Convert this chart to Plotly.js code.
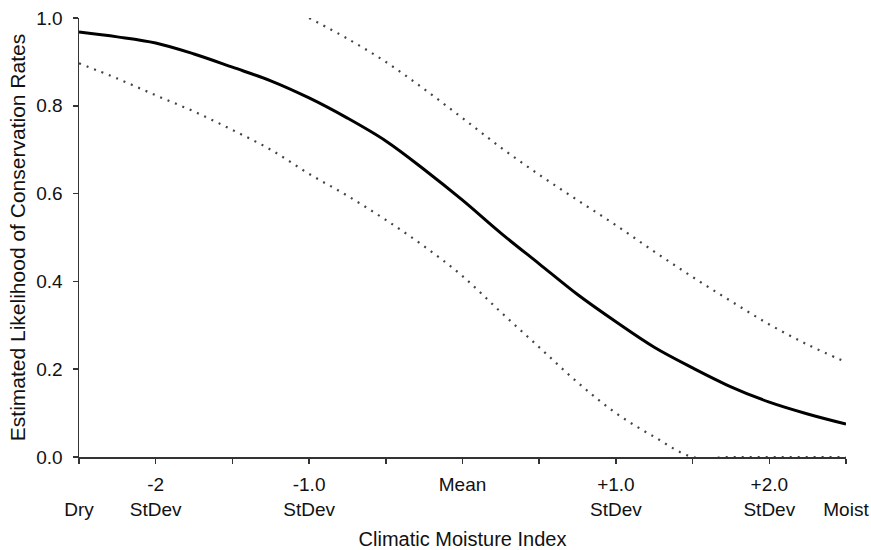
<!DOCTYPE html>
<html>
<head>
<meta charset="utf-8">
<script src="https://cdn.plot.ly/plotly-3.0.1.min.js"></script>
<style>html,body{margin:0;padding:0;background:#fff;}#chart{width:871px;height:550px;}</style>
</head>
<body>
<div id="chart"></div>
<script>
// Climatic moisture index positions (in half-StDev steps from Dry to Moist)
const xIndex = [0, 0.5, 1, 1.5, 2, 2.5, 3, 3.5, 4, 4.5, 5, 5.5, 6, 6.5, 7, 7.5, 8, 8.5, 9, 9.5, 10];
// Estimated likelihood (solid)
const estimate = [0.968, 0.957, 0.943, 0.918, 0.888, 0.857, 0.818, 0.772, 0.720, 0.655, 0.585, 0.510, 0.440, 0.370, 0.308, 0.250, 0.203, 0.160, 0.125, 0.098, 0.075];
// Upper confidence bound (dotted)
const upper = [null, null, null, null, null, null, 1.0, 0.953, 0.900, 0.838, 0.772, 0.705, 0.643, 0.585, 0.528, 0.468, 0.410, 0.355, 0.302, 0.256, 0.216];
// Lower confidence bound (dotted)
const lower = [0.897, 0.862, 0.824, 0.787, 0.745, 0.700, 0.645, 0.595, 0.540, 0.480, 0.412, 0.330, 0.250, 0.170, 0.100, 0.046, 0.0, 0.0, 0.0, 0.0, 0.0];
// Tick labels
const tickPositions = [0, 1, 2, 3, 4, 5, 6, 7, 8, 9, 10];
const tickLabels = [" <br>Dry", "-2<br>StDev", "", "-1.0<br>StDev", "", "Mean", "", "+1.0<br>StDev", "", "+2.0<br>StDev", " <br>Moist"];
const yTicks = [0, 0.2, 0.4, 0.6, 0.8, 1.0];

const font = "Liberation Sans, Arial, sans-serif";
const traces = [
  {x: xIndex, y: lower, mode: "lines", line: {color: "#444", width: 2.2, dash: "2px,6px", shape: "spline"}, hoverinfo: "skip"},
  {x: xIndex, y: upper, mode: "lines", line: {color: "#444", width: 2.2, dash: "2px,6px", shape: "spline"}, hoverinfo: "skip"},
  {x: xIndex, y: estimate, mode: "lines", line: {color: "#000", width: 3, shape: "spline"}, hoverinfo: "skip"}
];
const layout = {
  width: 871, height: 550,
  margin: {l: 79, r: 25, t: 18, b: 93},
  paper_bgcolor: "#fff", plot_bgcolor: "#fff",
  showlegend: false,
  font: {family: font, color: "#111", size: 19},
  xaxis: {
    range: [0, 10], showgrid: false, zeroline: false,
    showline: true, linecolor: "#333", linewidth: 1.5,
    ticks: "outside", ticklen: 5, tickcolor: "#333", tickwidth: 1.5,
    tickmode: "array", tickvals: tickPositions, ticktext: tickLabels,
    tickfont: {family: font, size: 19, color: "#111"},
    ticklabelstandoff: 5,
    title: {text: "Climatic Moisture Index", font: {family: font, size: 20, color: "#111"}, standoff: 14}
  },
  yaxis: {
    range: [0, 1], showgrid: false, zeroline: false,
    showline: true, linecolor: "#333", linewidth: 1.5,
    ticks: "outside", ticklen: 5, tickcolor: "#333", tickwidth: 1.5,
    tickmode: "array", tickvals: yTicks, tickformat: ".1f",
    tickfont: {family: font, size: 19, color: "#111"},
    ticklabelstandoff: 6,
    title: {text: "Estimated Likelihood of Conservation Rates", font: {family: font, size: 21, color: "#111"}, standoff: 5}
  }
};
Plotly.newPlot("chart", traces, layout, {staticPlot: true, displayModeBar: false});
</script>
</body>
</html>
